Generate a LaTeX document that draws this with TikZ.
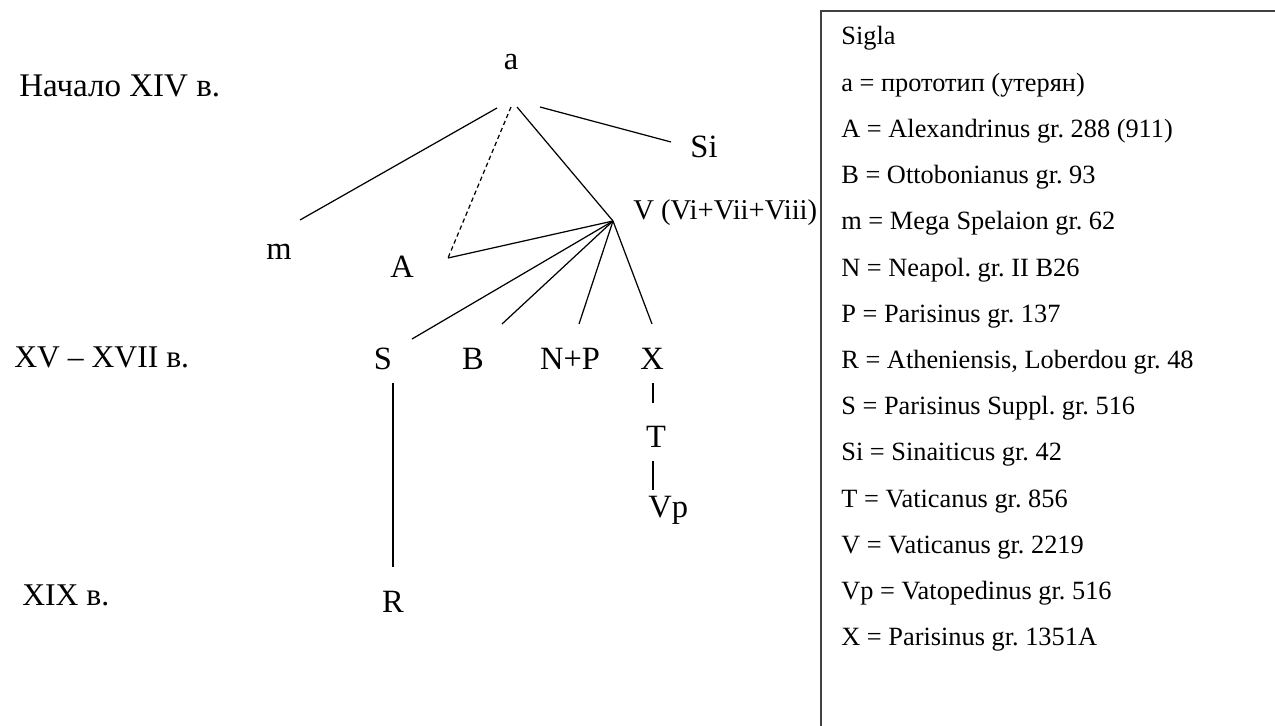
\documentclass[tikz,border=0pt]{standalone}
\usepackage{fontspec}
\setmainfont{Liberation Serif}
\frenchspacing

\begin{document}
\begin{tikzpicture}[x=0.02cm, y=-0.02cm,
    ms/.style={font=\fontsize{18.5}{20}\selectfont, anchor=base, inner sep=0pt},
    era/.style={font=\fontsize{18}{20}\selectfont, anchor=base west, inner sep=0pt},
    sig/.style={font=\fontsize{15}{17}\selectfont, anchor=base west, inner sep=0pt},
    edge/.style={line width=0.7pt},
    lost/.style={edge, dash pattern=on 2.5pt off 1.8pt}]

    \useasboundingbox (0,0) rectangle (1275,726);

    % -------------------------------
    % века
    % -------------------------------
    \node[era, font=\fontsize{18.8}{20}\selectfont] (e14) at (19,97) {Начало XIV в.};
    \node[era] (e15) at (14,367) {XV – XVII в.};
    \node[era] (e19) at (22,605) {XIX в.};

    % -------------------------------
    % рукописи
    % -------------------------------
    \node[ms] (a)  at (511,70)  {a};
    \node[ms] (Si) at (704,158) {Si};
    \node[ms, anchor=base west, font=\fontsize{16.3}{18}\selectfont] (V) at (633,220) {V (Vi+Vii+Viii)};
    \node[ms] (m)  at (279,260) {m};
    \node[ms] (A)  at (402,277) {A};
    \node[ms] (S)  at (383,369) {S};
    \node[ms] (B)  at (473,369) {B};
    \node[ms] (NP) at (570,369) {N+P};
    \node[ms] (X)  at (652,369) {X};
    \node[ms] (T)  at (656,447) {T};
    \node[ms, anchor=base west] (Vp) at (648,517) {Vp};
    \node[ms] (R)  at (393,612) {R};

    % концы линий
    \coordinate (a-m)  at (497,108);
    \coordinate (m-a)  at (300,220);
    \coordinate (a-A)  at (511,107);
    \coordinate (A-a)  at (448,258);
    \coordinate (a-V)  at (517,107);
    \coordinate (vj)   at (613,221);
    \coordinate (a-Si) at (540,107);
    \coordinate (Si-a) at (671,142);
    \coordinate (S-v)  at (412,339);
    \coordinate (B-v)  at (502,324);
    \coordinate (NP-v) at (579,324);
    \coordinate (X-v)  at (652,324);
    \coordinate (X-t)  at (653,383);
    \coordinate (T-x)  at (653,403);
    \coordinate (T-vp) at (653,461);
    \coordinate (Vp-t) at (653,490);
    \coordinate (S-r)  at (393,383);
    \coordinate (R-s)  at (393,567);

    % стемма
    \draw[edge] (a-m) -- (m-a);
    \draw[lost] (a-A) -- (A-a);
    \draw[edge] (a-V) -- (vj);
    \draw[edge] (a-Si) -- (Si-a);
    \draw[edge] (A-a) -- (vj);
    \foreach \e in {S-v, B-v, NP-v, X-v} {
        \draw[edge] (vj) -- (\e);
    }
    \draw[edge] (X-t) -- (T-x);
    \draw[edge] (T-vp) -- (Vp-t);
    \draw[edge] (S-r) -- (R-s);

    % -------------------------------
    % Sigla
    % -------------------------------
    \draw[black!75, line width=1pt] (1275,11) -- (821,11) -- (821,726);

    \foreach \k/\t in {0/Sigla,
                       1/{a = прототип (утерян)},
                       2/{A = Alexandrinus gr. 288 (911)},
                       3/{B = Ottobonianus gr. 93},
                       4/{m = Mega Spelaion gr. 62},
                       5/{N = Neapol. gr. II B26},
                       6/{P = Parisinus gr. 137},
                       7/{R = Atheniensis, Loberdou gr. 48},
                       8/{S = Parisinus Suppl. gr. 516},
                       9/{Si = Sinaiticus gr. 42},
                       10/{T = Vaticanus gr. 856},
                       11/{V = Vaticanus gr. 2219},
                       12/{Vp = Vatopedinus gr. 516},
                       13/{X = Parisinus gr. 1351A}} {
        \node[sig] (sig\k) at (841,{45+46.2*\k}) {\t};
    }

\end{tikzpicture}
\end{document}
